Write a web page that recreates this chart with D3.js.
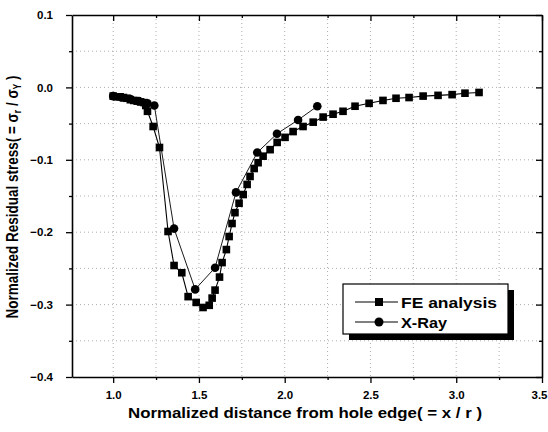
<!DOCTYPE html>
<html><head><meta charset="utf-8">
<script src="https://cdn.jsdelivr.net/npm/d3@7/dist/d3.min.js"></script>
<style>body{margin:0;background:#fff}svg{display:block}</style>
</head><body><svg id="c" width="548" height="432"></svg>
<script>
const feX = [1.00,1.02,1.04,1.06,1.08,1.10,1.12,1.14,1.16,1.18,1.19,1.20,1.233,1.27,1.32,1.355,1.40,1.437,1.484,1.524,1.56,1.577,1.594,1.62,1.635,1.66,1.676,1.693,1.71,1.734,1.758,1.781,1.798,1.822,1.845,1.874,1.915,1.956,2.002,2.049,2.107,2.166,2.224,2.282,2.340,2.410,2.492,2.573,2.649,2.725,2.807,2.894,2.976,3.051,3.133];
const feY = [-0.012,-0.013,-0.013,-0.014,-0.015,-0.017,-0.018,-0.019,-0.020,-0.021,-0.025,-0.033,-0.054,-0.083,-0.199,-0.246,-0.256,-0.289,-0.297,-0.304,-0.301,-0.291,-0.280,-0.262,-0.242,-0.224,-0.206,-0.188,-0.173,-0.160,-0.148,-0.134,-0.123,-0.112,-0.104,-0.095,-0.086,-0.076,-0.069,-0.061,-0.054,-0.048,-0.041,-0.037,-0.033,-0.026,-0.022,-0.018,-0.015,-0.014,-0.012,-0.011,-0.010,-0.008,-0.007];
const xrX = [1.00,1.05,1.10,1.15,1.20,1.24,1.355,1.478,1.594,1.716,1.84,1.955,2.078,2.19];
const xrY = [-0.012,-0.014,-0.016,-0.019,-0.022,-0.025,-0.195,-0.279,-0.249,-0.145,-0.090,-0.064,-0.045,-0.026];
const xTicks = [1.0,1.5,2.0,2.5,3.0,3.5];
const xMinor = [1.25,1.75,2.25,2.75,3.25];
const yTicks = [0.1,0.0,-0.1,-0.2,-0.3,-0.4];
const yMinor = [0.05,-0.05,-0.15,-0.25,-0.35];
const seriesNames = ["FE analysis","X-Ray"];

(function(){
const svg = d3.select("#c");
const L=72,R=542,T=15,B=377;
const x = d3.scaleLinear().domain([0.76,3.5]).range([L,R]);
const y = d3.scaleLinear().domain([-0.4,0.1]).range([B,T]);
const font = "'Liberation Sans', Arial, sans-serif";

// grid
const g = svg.append("g");
[...xTicks.slice(0,-1),...xMinor].forEach(v=>{
  g.append("line").attr("x1",x(v)).attr("x2",x(v)).attr("y1",T).attr("y2",B)
   .attr("stroke","#999").attr("stroke-width",0.8).attr("stroke-dasharray","1,3");
});
[...yTicks.slice(1,-1),...yMinor].forEach(v=>{
  g.append("line").attr("x1",L).attr("x2",R).attr("y1",y(v)).attr("y2",y(v))
   .attr("stroke","#999").attr("stroke-width",0.8).attr("stroke-dasharray","1,3");
});

// axes
const fmt = d3.format(".1f");
const bAx = svg.append("g").attr("transform",`translate(0,${B})`)
  .call(d3.axisBottom(x).tickValues(xTicks).tickSize(6).tickSizeOuter(0).tickFormat(fmt));
bAx.append("g").call(d3.axisBottom(x).tickValues(xMinor).tickSize(3).tickFormat("")).select(".domain").remove();
const tAx = svg.append("g").attr("transform",`translate(0,${T})`)
  .call(d3.axisBottom(x).tickValues(xTicks).tickSize(6).tickSizeOuter(0).tickFormat(""));
tAx.append("g").call(d3.axisBottom(x).tickValues(xMinor).tickSize(3).tickFormat("")).select(".domain").remove();
const lAx = svg.append("g").attr("transform",`translate(${L},0)`)
  .call(d3.axisLeft(y).tickValues(yTicks).tickSize(6).tickSizeOuter(0).tickFormat(fmt));
lAx.append("g").call(d3.axisLeft(y).tickValues(yMinor).tickSize(3).tickFormat("")).select(".domain").remove();
const rAx = svg.append("g").attr("transform",`translate(${R},0)`)
  .call(d3.axisLeft(y).tickValues(yTicks).tickSize(6).tickSizeOuter(0).tickFormat(""));
rAx.append("g").call(d3.axisLeft(y).tickValues(yMinor).tickSize(3).tickFormat("")).select(".domain").remove();
[bAx,tAx,lAx,rAx].forEach(a=>{
  a.selectAll(".domain").attr("stroke","#000").attr("stroke-width",1.6);
  a.selectAll(".tick line").attr("stroke","#000").attr("stroke-width",1.3);
  a.selectAll("text").attr("font-family",font).attr("font-weight","bold").attr("font-size",11.5).attr("fill","#000");
});
bAx.selectAll(".tick text").attr("dy","1.15em")
  .filter(d=>d===3.5).attr("text-anchor","end").attr("x",5);
lAx.selectAll(".tick text").attr("dx",-10);

// data
const feData = feX.map((v,i)=>[v,feY[i]]);
const xrData = xrX.map((v,i)=>[v,xrY[i]]);
const line = d3.line().x(d=>x(d[0])).y(d=>y(d[1]));
svg.append("path").attr("d",line(feData)).attr("fill","none").attr("stroke","#000").attr("stroke-width",1.1);
svg.append("path").attr("d",line(xrData)).attr("fill","none").attr("stroke","#000").attr("stroke-width",0.9);
svg.append("g").selectAll("rect").data(feData).join("rect")
  .attr("x",d=>x(d[0])-3.8).attr("y",d=>y(d[1])-3.8).attr("width",7.6).attr("height",7.6).attr("fill","#000");
svg.append("g").selectAll("circle").data(xrData).join("circle")
  .attr("cx",d=>x(d[0])).attr("cy",d=>y(d[1])).attr("r",4.3).attr("fill","#000");

// titles
svg.append("text").attr("x",305).attr("y",418).attr("text-anchor","middle")
  .attr("font-family",font).attr("font-weight","bold").attr("font-size",14.5)
  .attr("textLength",354).attr("lengthAdjust","spacingAndGlyphs")
  .text("Normalized distance from hole edge( = x / r )");
const yt = svg.append("text").attr("transform","translate(17.5,197) scale(1.2,1) rotate(-90)").attr("text-anchor","middle")
  .attr("font-family",font).attr("font-weight","bold").attr("font-size",13.5);
yt.append("tspan").text("Normalized Residual stress( = σ");
yt.append("tspan").attr("font-size",8.5).attr("dy",3).text("r");
yt.append("tspan").attr("dy",-3).text(" / σ");
yt.append("tspan").attr("font-size",8.5).attr("dy",3).text("Y");
yt.append("tspan").attr("dy",-3).text(" )");

// legend
const lg = svg.append("g");
lg.append("rect").attr("x",349).attr("y",290).attr("width",165).attr("height",50).attr("fill","#000");
lg.append("rect").attr("x",343).attr("y",284).attr("width",165).attr("height",50).attr("fill","#fff").attr("stroke","#000").attr("stroke-width",1.2);
const lens = [96,46];
seriesNames.forEach((n,i)=>{
  const yy = 302+i*20;
  lg.append("line").attr("x1",355).attr("x2",398).attr("y1",yy).attr("y2",yy).attr("stroke","#000").attr("stroke-width",1);
  if(i===0) lg.append("rect").attr("x",375).attr("y",yy-4).attr("width",8).attr("height",8).attr("fill","#000");
  else lg.append("circle").attr("cx",379).attr("cy",yy).attr("r",4.5).attr("fill","#000");
  lg.append("text").attr("x",401).attr("y",yy+5.5).attr("font-family",font).attr("font-weight","bold").attr("font-size",15)
    .attr("textLength",lens[i]).attr("lengthAdjust","spacingAndGlyphs").text(n);
});
})();
</script></body></html>
